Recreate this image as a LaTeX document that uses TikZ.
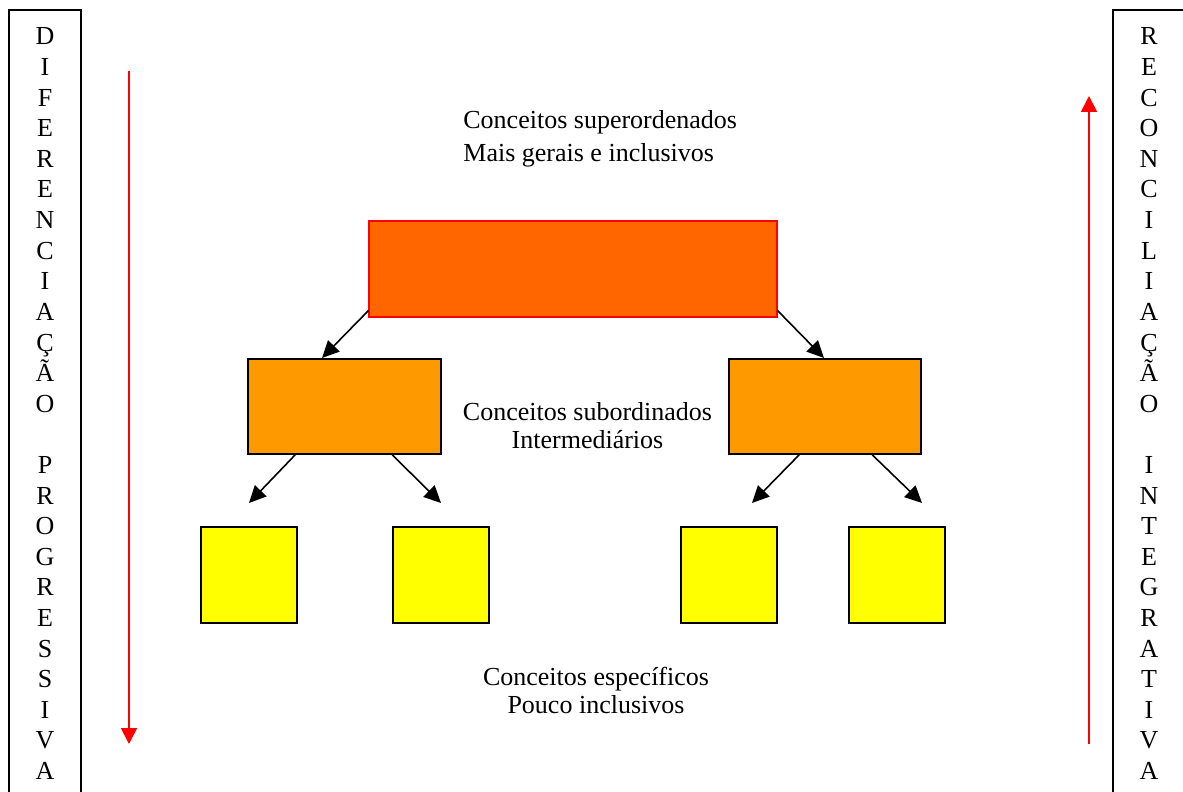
\documentclass[tikz,border=0pt]{standalone}
\usepackage{fontspec}
\setmainfont{Liberation Serif}
\usetikzlibrary{arrows.meta,calc}
\definecolor{topfill}{HTML}{FF6600}
\definecolor{midfill}{HTML}{FF9900}
\definecolor{lowfill}{HTML}{FFFF00}
\definecolor{redline}{HTML}{FF0000}
\tikzset{
  sidebox/.style={draw=black,line width=0.8pt},
  letter/.style={anchor=base,inner sep=0pt,font=\fontsize{13}{15}\selectfont},
  lbl/.style={inner sep=0pt,font=\fontsize{13}{15}\selectfont},
  topbox/.style={draw=redline,fill=topfill,line width=0.6pt,minimum width=204pt,minimum height=48pt,inner sep=0pt},
  midbox/.style={draw=black,fill=midfill,line width=0.8pt,minimum height=47.5pt,inner sep=0pt},
  lowbox/.style={draw=black,fill=lowfill,line width=0.8pt,minimum width=48pt,minimum height=48pt,inner sep=0pt},
  arr/.style={draw=black,line width=0.8pt,-{Triangle[length=8.5pt,width=8pt]}},
  redarr/.style={draw=redline,line width=0.9pt,-{Triangle[length=8pt,width=8pt]}}
}
\begin{document}
\begin{tikzpicture}[x=0.5pt,y=-0.5pt]
\useasboundingbox (0,0) rectangle (1183,792);
\clip (0,0) rectangle (1183,792);
% side boxes
\draw[sidebox] (9,10) rectangle (81,820);
\draw[sidebox] (1113,10) rectangle (1200,820);
\foreach \c [count=\i from 0] in {D,I,F,E,R,E,N,C,I,A,Ç,Ã,O,{},P,R,O,G,R,E,S,S,I,V,A}
  \node[letter] (l\i) at (45,45+30.6*\i) {\c};
\foreach \c [count=\i from 0] in {R,E,C,O,N,C,I,L,I,A,Ç,Ã,O,{},I,N,T,E,G,R,A,T,I,V,A}
  \node[letter] (r\i) at (1149,45+30.6*\i) {\c};
% red arrows
\coordinate (la) at (129,71);
\coordinate (lb) at (129,744);
\draw[redarr] (la) -- (lb);
\coordinate (ra) at (1089,744);
\coordinate (rb) at (1089,96);
\draw[redarr] (ra) -- (rb);
% labels
\node[lbl,anchor=base west] (t1) at (463,129) {Conceitos superordenados};
\node[lbl,anchor=base west] (t2) at (463,162) {Mais gerais e inclusivos};
\node[lbl,anchor=base] (m1) at (587.5,420) {Conceitos subordinados};
\node[lbl,anchor=base] (m2) at (587.5,448) {Intermediários};
\node[lbl,anchor=base] (b1) at (596,685) {Conceitos específicos};
\node[lbl,anchor=base] (b2) at (596,713) {Pouco inclusivos};
% boxes
\node[topbox] (top) at (573,269) {};
\node[midbox,minimum width=96.5pt] (midl) at (344.5,406.5) {};
\node[midbox,minimum width=96pt] (midr) at (825,406.5) {};
\node[lowbox] (y1) at (249,575) {};
\node[lowbox] (y2) at (441,575) {};
\node[lowbox] (y3) at (729,575) {};
\node[lowbox] (y4) at (897,575) {};
% arrow tips
\coordinate (a1) at (322,358);
\coordinate (a2) at (824,358);
\coordinate (a3) at (249,503);
\coordinate (a4) at (441,503);
\coordinate (a5) at (752,503);
\coordinate (a6) at (922,503);
\draw[arr] ($(top.south west)+(0,-7)$) -- (a1);
\draw[arr] ($(top.south east)+(0,-7)$) -- (a2);
\draw[arr] ($(midl.south west)+(48,0)$) -- (a3);
\draw[arr] ($(midl.south west)+(145,0)$) -- (a4);
\draw[arr] ($(midr.south west)+(71,0)$) -- (a5);
\draw[arr] ($(midr.south west)+(144,0)$) -- (a6);
\end{tikzpicture}
\end{document}
